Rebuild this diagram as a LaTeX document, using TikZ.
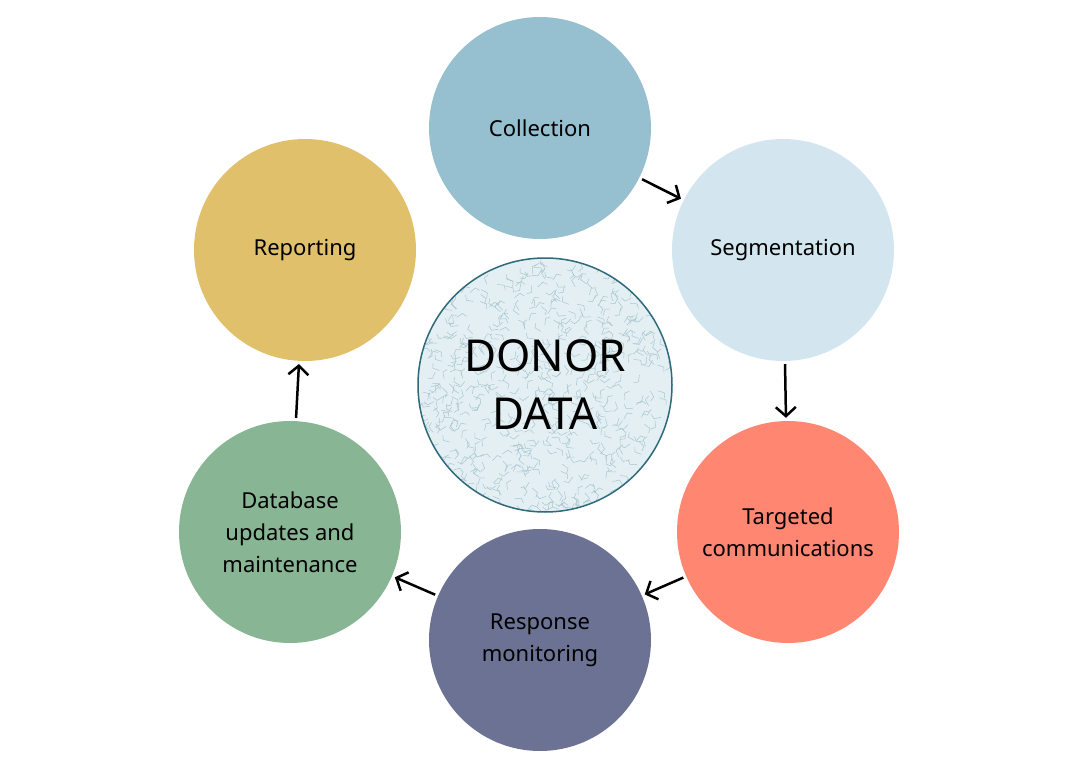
\documentclass[tikz,border=0pt]{standalone}
\usepackage{fontspec}
\setmainfont{Noto Sans}
\usetikzlibrary{arrows.meta}
\definecolor{ccol}{HTML}{96BFCF}
\definecolor{cseg}{HTML}{D3E6EF}
\definecolor{ctar}{HTML}{FF8772}
\definecolor{cres}{HTML}{6B7293}
\definecolor{cdb}{HTML}{88B594}
\definecolor{crep}{HTML}{E0C06B}
\definecolor{ccen}{HTML}{E4EFF3}
\definecolor{cbor}{HTML}{2E6A7A}
\definecolor{ctex}{HTML}{A9C6CF}
\tikzset{
 stage/.style={circle,minimum size=222pt,inner sep=0pt,align=center,font=\fontsize{22}{32}\selectfont\bfseries,text=black},
 arr/.style={-{Straight Barb[length=9pt,width=20pt,line width=2.5pt]},line width=2.5pt,shorten <=3pt,shorten >=3pt}
}
\begin{document}
\begin{tikzpicture}[x=1pt,y=-1pt]
\useasboundingbox (0,0) rectangle (1080,765);
\fill[white] (0,0) rectangle (1080,765);
\node[stage,fill=ccol] (col) at (540,128) {Collection};
\node[stage,fill=cseg] (seg) at (783,250) {Segmentation};
\node[stage,fill=ctar] (tar) at (788,532) {Targeted\\communications};
\node[stage,fill=cres] (res) at (540,640) {Response\\monitoring};
\node[stage,fill=cdb] (db) at (290,532) {Database\\updates and\\maintenance};
\node[stage,fill=crep] (rep) at (305,250) {Reporting};
\fill[ccen] (545,385) circle (127);
\begin{scope}
\clip (545,385) circle (127);
\pgfmathsetseed{7}
\foreach \i in {1,...,700}{
 \pgfmathsetmacro{\xa}{418+rnd*254}
 \pgfmathsetmacro{\ya}{258+rnd*254}
 \pgfmathsetmacro{\an}{rnd*360}
 \draw[ctex,line width=0.5pt] (\xa,\ya) -- ++(\an:7) -- ++(\an+70:5);
}
\end{scope}
\node[circle,draw=cbor,line width=1.5pt,minimum size=254pt,inner sep=0pt,align=center,font=\fontsize{44}{58}\selectfont\bfseries] (cen) at (545,385) {DONOR\\DATA};
\draw[arr] (col) -- (seg);
\draw[arr] (seg) -- (tar);
\draw[arr] (tar) -- (res);
\draw[arr] (res) -- (db);
\draw[arr] (db) -- (rep);
\end{tikzpicture}
\end{document}
